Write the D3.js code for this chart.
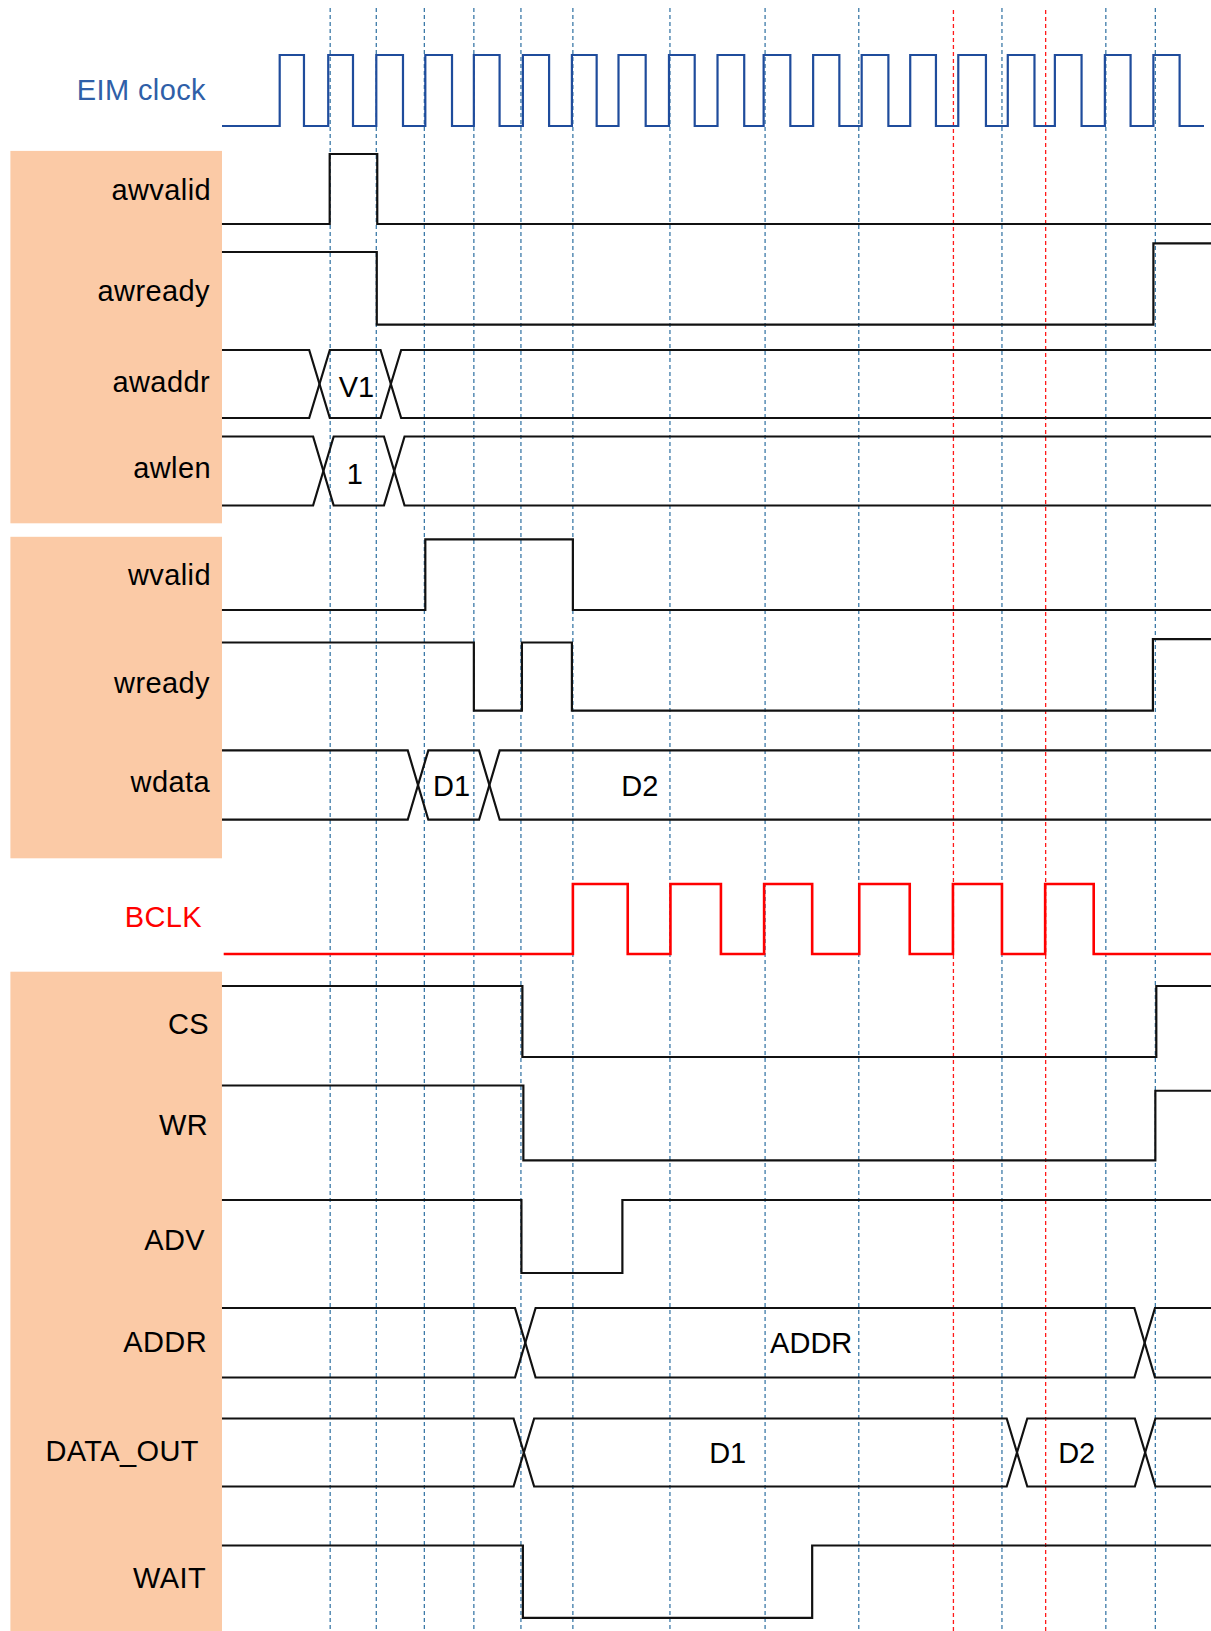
<!DOCTYPE html>
<html>
<head>
<meta charset="utf-8">
<script src="https://cdn.jsdelivr.net/npm/d3@7/dist/d3.min.js"></script>
<style>
  html, body { margin: 0; padding: 0; background: #fff; }
  svg { display: block; font-family: "Liberation Sans", Arial, Helvetica, sans-serif; }
</style>
</head>
<body>
<svg id="chart"></svg>
<script>
// times are in EIM clock periods, 0 = first rising edge of EIM clock

const signalNames = ["EIM clock", "awvalid", "awready", "awaddr", "awlen",
                     "wvalid", "wready", "wdata", "BCLK",
                     "CS", "WR", "ADV", "ADDR", "DATA_OUT", "WAIT"];

const eimRise = [0, 1, 1.99, 3, 4, 5.01, 6.02, 6.98, 8.02, 9.02, 9.97, 10.99, 11.99, 12.99, 13.98, 15, 15.97, 17, 18];
const eimFall = [0.5, 1.51, 2.54, 3.55, 4.53, 5.55, 6.53, 7.54, 8.55, 9.57, 10.52, 11.53, 12.54, 13.52, 14.55, 15.55, 16.52, 17.53, 18.54];

const bclkRise = [6.04, 8.05, 9.98, 11.94, 13.87, 15.77];
const bclkFall = [7.17, 9.09, 10.97, 12.98, 14.88, 16.77];

// [time, level] change points, first one is the level at the left edge
const awvalidWave = [[-1.19, 0], [1.03, 1], [2.01, 0]];
const awreadyWave = [[-1.19, 1], [2.0, 0], [18.0, 1.12]];
const wvalidWave  = [[-1.19, 0], [3.0, 1], [6.04, 0]];
const wreadyWave  = [[-1.19, 1], [4.0, 0], [4.99, 1], [6.02, 0], [17.99, 1.05]];
const csWave      = [[-1.19, 1], [5.0, 0], [18.06, 1]];
const wrWave      = [[-1.19, 1], [5.02, 0], [18.04, 0.93]];
const advWave     = [[-1.19, 1], [4.98, 0], [7.06, 1]];
const waitWave    = [[-1.19, 1], [5.01, 0], [10.97, 1]];

// bus transitions (centre of the cross) and the value names
const awaddrEdges  = [0.82, 2.29];
const awlenEdges   = [0.90, 2.36];
const wdataEdges   = [2.85, 4.32];
const addrEdges    = [5.06, 17.82];
const dataOutEdges = [5.03, 15.19, 17.83];

const awaddrValues  = [["V1", 1.58]];
const awlenValues   = [["1", 1.55]];
const wdataValues   = [["D1", 3.54], ["D2", 7.42]];
const addrValues    = [["ADDR", 10.95]];
const dataOutValues = [["D1", 9.23], ["D2", 16.42]];

// dashed reference lines
const blueMarks = [1.04, 1.99, 2.98, 4.0, 4.97, 6.04, 8.04, 10.0, 11.93, 14.88, 17.02, 18.04];
const redMarks  = [13.88, 15.78];


class TimingDiagram {

    constructor(config) {
        this.config = {
            parent: config.parent,
            width : config.width  || 1211,
            height: config.height || 1631,
            left  : config.left   || 222,
            font  : config.font   || '29px',
        };
        this.init();
    }

    init() {
        let self = this;

        self.svg = d3.select(self.config.parent)
            .attr('width', self.config.width)
            .attr('height', self.config.height);

        self.svg.append('rect')
            .attr('width', self.config.width)
            .attr('height', self.config.height)
            .attr('fill', '#ffffff');

        // clock period ~48.5px
        self.x = d3.scaleLinear()
            .domain([0, 18])
            .range([279.7, 1153.4]);

        self.tStart = self.x.invert(self.config.left);
        self.tEnd   = self.x.invert(self.config.width);

        // row geometry: y of the high (top) and low (bottom) levels, label anchor
        self.rows = [
            {high:   55, low:  126,  lx: 206, ly:  100, fill: '#2f5fa8'},
            {high:  154, low:  224,  lx: 211, ly:  200},
            {high:  252, low:  324.6,lx: 210, ly:  301},
            {high:  350, low:  418,  lx: 210, ly:  392},
            {high:  436.5,low: 505.5,lx: 211, ly:  478},
            {high:  539.3,low: 610,  lx: 211, ly:  585},
            {high:  642.5,low: 710.7,lx: 210, ly:  693},
            {high:  750.4,low: 819.7,lx: 210, ly:  792},
            {high:  884, low:  954,  lx: 202, ly:  927, fill: '#ff0000'},
            {high:  986, low: 1057,  lx: 209, ly: 1034},
            {high: 1085.5,low:1160.3,lx: 208, ly: 1135},
            {high: 1200, low: 1273,  lx: 205, ly: 1250},
            {high: 1308, low: 1377.5,lx: 207, ly: 1352},
            {high: 1418.5,low:1486.5,lx: 199, ly: 1461},
            {high: 1545.5,low:1617.8,lx: 206, ly: 1588},
        ];
        self.rows.forEach(r => {
            r.y = d3.scaleLinear().domain([0, 1]).range([r.low, r.high]);
        });

        self.groups = [[150.9, 523.3], [536.8, 858.3], [971.7, 1631]];
    }

    render() {
        let self = this;

        // peach group panels
        self.svg.selectAll('.panel')
            .data(self.groups)
            .enter()
            .append('rect')
            .attr('class', 'panel')
            .attr('x', 10.4)
            .attr('y', d => d[0])
            .attr('width', self.config.left - 10.4)
            .attr('height', d => d[1] - d[0])
            .attr('fill', '#fbcaa6');

        // signal names
        self.svg.selectAll('.name')
            .data(signalNames)
            .enter()
            .append('text')
            .attr('class', 'name')
            .attr('x', (d, i) => self.rows[i].lx)
            .attr('y', (d, i) => self.rows[i].ly)
            .attr('text-anchor', 'end')
            .style('font-size', self.config.font)
            .style('letter-spacing', '0.4px')
            .attr('fill', (d, i) => self.rows[i].fill || '#000000')
            .text(d => d);

        // dashed markers
        self.svg.selectAll('.mark-blue')
            .data(blueMarks)
            .enter()
            .append('line')
            .attr('x1', d => self.x(d)).attr('x2', d => self.x(d))
            .attr('y1', 8).attr('y2', self.config.height)
            .attr('stroke', '#3d7aa8')
            .attr('stroke-width', 1.3)
            .attr('stroke-dasharray', '4,3');

        self.svg.selectAll('.mark-red')
            .data(redMarks)
            .enter()
            .append('line')
            .attr('x1', d => self.x(d)).attr('x2', d => self.x(d))
            .attr('y1', 10).attr('y2', self.config.height)
            .attr('stroke', '#ff1a1a')
            .attr('stroke-width', 1.3)
            .attr('stroke-dasharray', '4,3');

        // EIM clock
        let eim = [[self.tStart, 0]]
            .concat(eimRise.map(t => [t, 1]))
            .concat(eimFall.map(t => [t, 0]))
            .sort((a, b) => a[0] - b[0]);
        self.step(0, eim, self.x.invert(1204), '#1f4c9c', 2.2);

        // BCLK
        let bclk = [[self.x.invert(223.7), 0]]
            .concat(bclkRise.map(t => [t, 1]))
            .concat(bclkFall.map(t => [t, 0]))
            .sort((a, b) => a[0] - b[0]);
        self.step(8, bclk, self.tEnd, '#ff0000', 2.6);

        // single bit signals
        self.step(1,  awvalidWave, self.tEnd);
        self.step(2,  awreadyWave, self.tEnd);
        self.step(5,  wvalidWave,  self.tEnd);
        self.step(6,  wreadyWave,  self.tEnd);
        self.step(9,  csWave,      self.tEnd);
        self.step(10, wrWave,      self.tEnd);
        self.step(11, advWave,     self.tEnd);
        self.step(14, waitWave,    self.tEnd);

        // buses
        self.bus(3,  awaddrEdges,  awaddrValues, 3);
        self.bus(4,  awlenEdges,   awlenValues, 3);
        self.bus(7,  wdataEdges,   wdataValues, 1);
        self.bus(12, addrEdges,    addrValues, 0);
        self.bus(13, dataOutEdges, dataOutValues, 0);
    }

    step(row, wave, tEnd, color, width) {
        let self = this;
        let r = self.rows[row];
        let pts = wave.concat([[tEnd, wave[wave.length - 1][1]]]);

        let line = d3.line()
            .x(d => self.x(d[0]))
            .y(d => r.y(d[1]))
            .curve(d3.curveStepAfter);

        self.svg.append('path')
            .attr('d', line(pts))
            .attr('fill', 'none')
            .attr('stroke', color || '#111111')
            .attr('stroke-width', width || 2.2)
            .attr('stroke-linejoin', 'miter');
    }

    bus(row, edges, values, shift) {
        let self = this;
        let r = self.rows[row];
        let h = 10.3;   // half width of the cross
        let a = [[self.config.left, r.y(1)]];
        let b = [[self.config.left, r.y(0)]];
        let top = true;
        edges.forEach(t => {
            let c = self.x(t);
            a.push([c - h, top ? r.y(1) : r.y(0)]);
            b.push([c - h, top ? r.y(0) : r.y(1)]);
            top = !top;
            a.push([c + h, top ? r.y(1) : r.y(0)]);
            b.push([c + h, top ? r.y(0) : r.y(1)]);
        });
        a.push([self.config.width, top ? r.y(1) : r.y(0)]);
        b.push([self.config.width, top ? r.y(0) : r.y(1)]);

        let line = d3.line();
        [a, b].forEach(p => {
            self.svg.append('path')
                .attr('d', line(p))
                .attr('fill', 'none')
                .attr('stroke', '#111111')
                .attr('stroke-width', 2.2);
        });

        self.svg.selectAll(null)
            .data(values)
            .enter()
            .append('text')
            .attr('x', d => self.x(d[1]))
            .attr('y', (r.y(0) + r.y(1)) / 2 + 10 + shift)
            .attr('text-anchor', 'middle')
            .style('font-size', self.config.font)
            .attr('fill', '#000000')
            .text(d => d[0]);
    }
}

let diagram = new TimingDiagram({ parent: '#chart', width: 1211, height: 1631 });
diagram.render();
</script>
</body>
</html>
